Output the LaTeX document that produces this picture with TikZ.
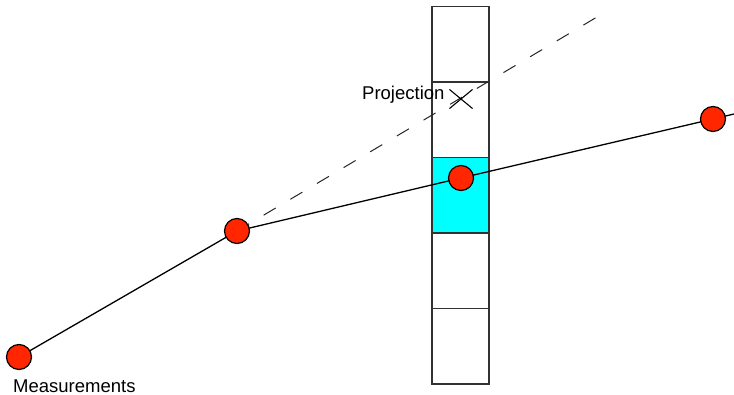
\documentclass[tikz,border=0pt]{standalone}
\usepackage{fontspec}
\setmainfont{Liberation Sans}
\usetikzlibrary{shapes.misc}
\definecolor{meas}{RGB}{255,38,0}
\definecolor{cellcyan}{RGB}{0,255,255}
\definecolor{cellline}{RGB}{50,50,50}
\begin{document}
\begin{tikzpicture}[x=1pt,y=-1pt,
  cell/.style={draw=cellline,line width=1.5pt,minimum width=57pt,minimum height=75.5pt,inner sep=0pt,outer sep=0pt},
  meas/.style={circle,draw=black,line width=1.2pt,fill=meas,minimum size=25pt,inner sep=0pt},
  track/.style={line width=1.3pt,black},
  projline/.style={line width=1pt,black!85,dash pattern=on 14pt off 17pt},
  lbl/.style={font=\fontsize{18.5pt}{21pt}\selectfont,inner sep=0pt}]
\useasboundingbox (0,0) rectangle (734,395);
\node[cell] (c1) at (460.5,44.5) {};
\node[cell] (c2) at (460.5,120) {};
\node[cell,fill=cellcyan] (c3) at (460.5,195.5) {};
\node[cell] (c4) at (460.5,271) {};
\node[cell] (c5) at (460.5,346.5) {};
\coordinate (m1) at (19,357);
\coordinate (m2) at (237,231);
\coordinate (m3) at (461,178);
\coordinate (m4) at (713,119);
\coordinate (tend) at (734,114);
\coordinate (dend) at (597,17);
\draw[projline] (m2) -- (dend);
\draw[track] (m1) -- (m2) -- (m3) -- (m4) -- (tend);
\node[draw=black,cross out,line width=1.1pt,minimum width=22pt,minimum height=18pt,inner sep=0pt] (proj) at (461,99) {};
\node[lbl,anchor=base west] (projlbl) at (362,100) {Projection};
\node[meas] (p1) at (m1) {};
\node[meas] (p2) at (m2) {};
\node[meas] (p3) at (m3) {};
\node[meas] (p4) at (m4) {};
\node[lbl,anchor=base west] (measlbl) at (13,392) {Measurements};
\end{tikzpicture}
\end{document}
